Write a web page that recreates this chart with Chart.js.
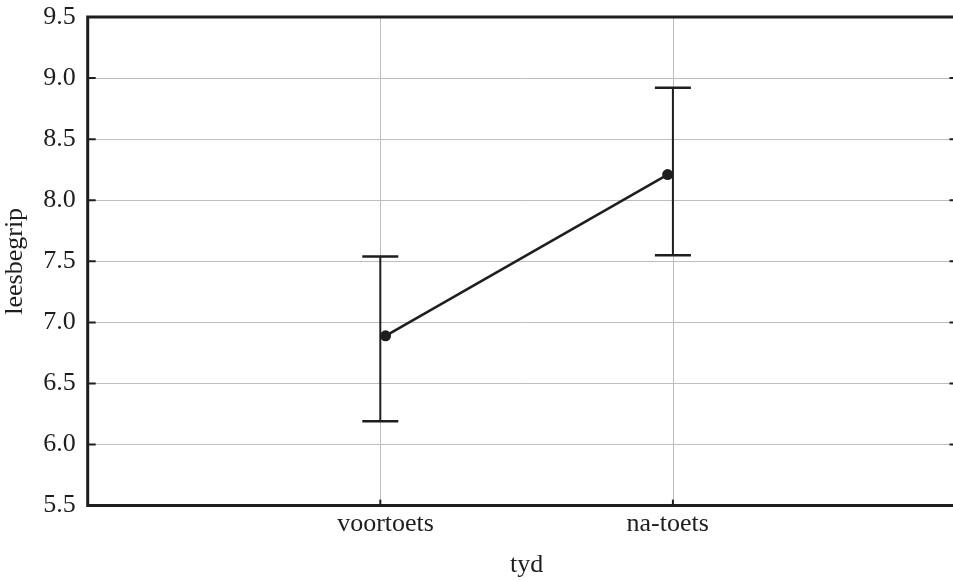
<!DOCTYPE html>
<html><head><meta charset="utf-8">
<script src="https://cdn.jsdelivr.net/npm/chart.js@4"></script>
<style>html,body{margin:0;padding:0;background:#fff;overflow:hidden}#wrap{width:971px;height:581px;position:relative}</style>
</head><body><div id="wrap"><canvas id="c"></canvas></div>
<script>
const categories = ['voortoets', 'na-toets'];
const catPos = [1, 2];
const means = [6.89, 8.21];
const ciLow = [6.19, 7.55];
const ciHigh = [7.54, 8.92];
const yTicks = [5.5, 6.0, 6.5, 7.0, 7.5, 8.0, 8.5, 9.0, 9.5];
const xTitle = 'tyd';
const yTitle = 'leesbegrip';

const DODGE = [0.018, -0.018];
const INK = '#1e1e1e';
const GRID = '#bdbdbd';
const FONT = {family: '"Liberation Serif", "Times New Roman", serif', size: 26};

const errPlugin = {
  id: 'errbars',
  beforeDatasetsDraw(chart) {
    const {ctx, chartArea: a, scales: {x, y}} = chart;
    ctx.save();
    ctx.strokeStyle = GRID;
    ctx.lineWidth = 1;
    catPos.forEach(c => {
      const px = Math.round(x.getPixelForValue(c)) + 0.5;
      ctx.beginPath();
      ctx.moveTo(px, a.top); ctx.lineTo(px, a.bottom);
      ctx.stroke();
    });
    ctx.strokeStyle = INK;
    catPos.forEach((c, i) => {
      const px = x.getPixelForValue(c);
      const yl = y.getPixelForValue(ciLow[i]);
      const yh = y.getPixelForValue(ciHigh[i]);
      ctx.lineWidth = 2;
      ctx.beginPath();
      ctx.moveTo(px, yl); ctx.lineTo(px, yh);
      ctx.stroke();
      ctx.lineWidth = 2.5;
      ctx.beginPath();
      ctx.moveTo(px - 18, yl); ctx.lineTo(px + 18, yl);
      ctx.moveTo(px - 18, yh); ctx.lineTo(px + 18, yh);
      ctx.stroke();
    });
    ctx.restore();
  },
  afterDraw(chart) {
    const {ctx, chartArea: a, scales: {x, y}} = chart;
    ctx.save();
    ctx.strokeStyle = INK;
    ctx.lineWidth = 2;
    yTicks.forEach(v => {
      const py = y.getPixelForValue(v);
      ctx.beginPath();
      ctx.moveTo(a.left, py); ctx.lineTo(a.left + 8, py);
      ctx.moveTo(a.right, py); ctx.lineTo(a.right - 16, py);
      ctx.stroke();
    });
    catPos.forEach(c => {
      const px = x.getPixelForValue(c);
      ctx.beginPath();
      ctx.moveTo(px, a.bottom); ctx.lineTo(px, a.bottom - 6);
      ctx.stroke();
    });
    ctx.lineWidth = 3;
    ctx.beginPath();
    ctx.moveTo(a.right, a.top);
    ctx.lineTo(a.left, a.top);
    ctx.lineTo(a.left, a.bottom);
    ctx.lineTo(a.right, a.bottom);
    ctx.stroke();
    ctx.restore();
  }
};

new Chart(document.getElementById('c'), {
  type: 'line',
  data: {
    datasets: [{
      data: means.map((m, i) => ({x: catPos[i] + DODGE[i], y: m})),
      borderColor: INK,
      borderWidth: 2.5,
      pointRadius: 5.5,
      pointBackgroundColor: INK,
      pointBorderWidth: 0,
      tension: 0
    }]
  },
  options: {
    responsive: true,
    maintainAspectRatio: false,
    animation: false,
    layout: {padding: {left: 0, right: 0, top: 0, bottom: 0}},
    plugins: {legend: {display: false}, tooltip: {enabled: false}},
    scales: {
      x: {
        type: 'linear', position: 'bottom', min: 0, max: 3,
        afterBuildTicks: s => { s.ticks = catPos.map((v, i) => ({value: v + DODGE[i]})); },
        ticks: {callback: (v, i) => categories[i], font: FONT, color: INK, padding: 3, maxRotation: 0, autoSkip: false},
        grid: {display: false, drawTicks: false},
        border: {display: false},
        title: {display: true, text: xTitle, font: FONT, color: INK, padding: {top: 7, bottom: 0}}
      },
      y: {
        min: 5.5, max: 9.5,
        afterBuildTicks: s => { s.ticks = yTicks.map(v => ({value: v})); },
        afterFit: s => { s.paddingTop = 17; s.paddingBottom = 0; },
        ticks: {callback: v => Number(v).toFixed(1), font: FONT, color: INK, padding: 12},
        grid: {color: GRID, lineWidth: 1, drawTicks: false},
        border: {display: false},
        title: {display: true, text: yTitle, font: FONT, color: INK, padding: {top: 0, bottom: 0}}
      }
    }
  },
  plugins: [errPlugin]
});
</script></body></html>
